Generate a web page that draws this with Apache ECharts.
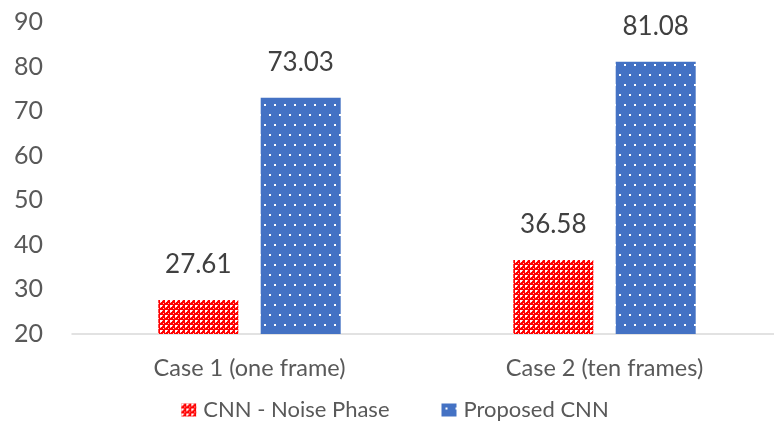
<!DOCTYPE html>
<html>
<head>
<meta charset="utf-8">
<script src="https://cdn.jsdelivr.net/npm/echarts@6/dist/echarts.min.js"></script>
<style>
  html, body { margin: 0; padding: 0; background: #ffffff; overflow: hidden; }
  #chart { width: 790px; height: 432px; }
</style>
</head>
<body>
<div id="chart"></div>
<script>
// Accuracy of the two networks for each test case
const categories = ['Case 1 (one frame)', 'Case 2 (ten frames)'];
const seriesNames = ['CNN - Noise Phase', 'Proposed CNN'];
const noisePhaseValues = [27.61, 36.58];
const proposedValues = [73.03, 81.08];
const yTicks = [20, 30, 40, 50, 60, 70, 80, 90];

// Red fill with a lattice of white dots
function redPattern() {
  const c = document.createElement('canvas');
  c.width = 5; c.height = 5;
  const g = c.getContext('2d');
  g.fillStyle = '#ff0000';
  g.fillRect(0, 0, 5, 5);
  g.fillStyle = '#ffffff';
  g.fillRect(0, 0, 2, 2);
  g.fillStyle = 'rgba(255,210,210,0.95)';
  g.fillRect(3, 3, 1, 1);
  g.fillRect(2, 0, 1, 1);
  g.fillRect(0, 2, 1, 1);
  return c;
}

// Blue fill with sparse white dots
function bluePattern() {
  const c = document.createElement('canvas');
  c.width = 20; c.height = 20;
  const g = c.getContext('2d');
  g.fillStyle = '#4472c4';
  g.fillRect(0, 0, 20, 20);
  g.fillStyle = '#ffffff';
  g.fillRect(4, 4, 2, 2);
  g.fillRect(14, 4, 2, 2);
  g.fillRect(9, 14, 2, 2);
  g.fillRect(19, 14, 1, 2);
  g.fillRect(0, 14, 1, 2);
  return c;
}

const chart = echarts.init(document.getElementById('chart'), null, { renderer: 'canvas' });

const labelStyle = {
  show: true,
  position: 'top',
  distance: 22,
  fontFamily: 'Lato',
  fontSize: 26,
  color: '#404040'
};

chart.setOption({
  animation: false,
  backgroundColor: '#ffffff',
  textStyle: { fontFamily: 'Lato' },
  grid: { left: 72, right: 8, top: 22, bottom: 98, containLabel: false },
  xAxis: {
    type: 'category',
    data: categories,
    axisLine: { lineStyle: { color: '#d9d9d9', width: 1.5 } },
    axisTick: { show: false },
    axisLabel: { fontFamily: 'Lato', fontSize: 23.5, color: '#595959', margin: 22 }
  },
  yAxis: {
    type: 'value',
    min: yTicks[0],
    max: yTicks[yTicks.length - 1],
    interval: 10,
    splitLine: { show: false },
    axisLine: { show: false },
    axisTick: { show: false },
    axisLabel: { fontFamily: 'Lato', fontSize: 25, color: '#595959', margin: 29 }
  },
  legend: {
    bottom: 6,
    left: 'center',
    itemWidth: 15,
    itemHeight: 13,
    itemGap: 52,
    icon: 'rect',
    textStyle: { fontFamily: 'Lato', fontSize: 22, color: '#595959', padding: [0, 0, 0, 2] },
    data: seriesNames
  },
  series: [
    {
      name: seriesNames[0],
      type: 'bar',
      data: noisePhaseValues,
      barWidth: 80,
      barGap: '28%',
      itemStyle: { color: { image: redPattern(), repeat: 'repeat' } },
      label: labelStyle
    },
    {
      name: seriesNames[1],
      type: 'bar',
      data: proposedValues,
      barWidth: 80,
      itemStyle: { color: { image: bluePattern(), repeat: 'repeat' } },
      label: labelStyle
    }
  ]
});
</script>
</body>
</html>
